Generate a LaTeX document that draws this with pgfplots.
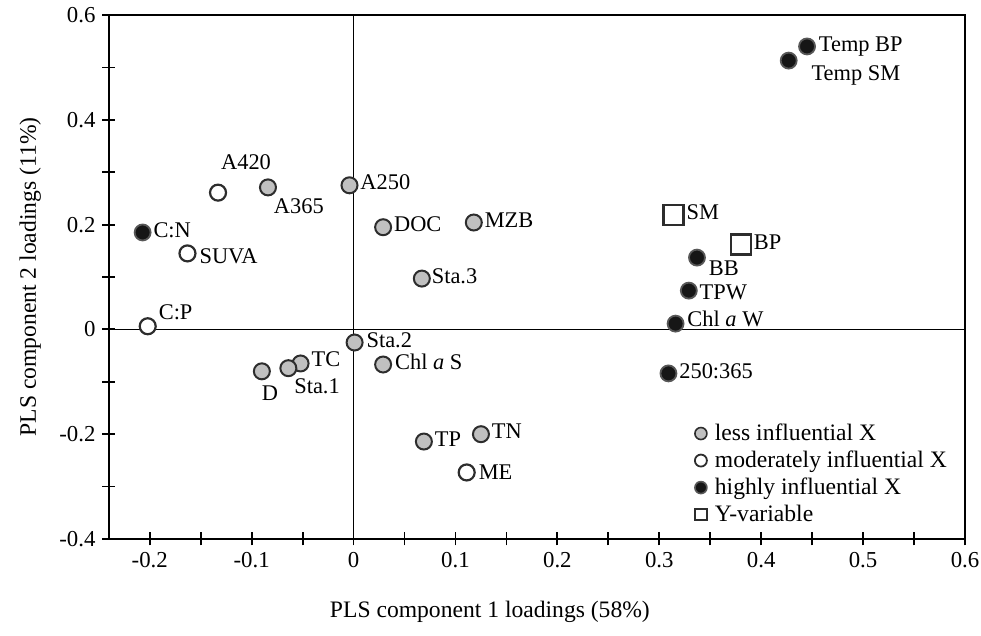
\documentclass[border=0pt]{standalone}
\usepackage{fontspec}
\setmainfont{Liberation Serif}
\usepackage{pgfplots}
\usepackage{pgfplotstable}
\pgfplotsset{compat=1.18}
\definecolor{ptgray}{RGB}{192,192,192}
\definecolor{ptedge}{RGB}{45,45,45}
\definecolor{ptblack}{RGB}{22,22,22}

% x y label, dx dy = label offset from marker (pt)
\pgfplotstableread{
x y lab dx dy
-0.004 0.275 A250 5 0
-0.084 0.271 A365 2.5 -11
0.029 0.195 DOC 5 0
0.118 0.204 MZB 5 0
0.067 0.097 Sta.3 4.5 0
0.001 -0.025 Sta.2 5.5 0
0.029 -0.067 {Chl \textit{a} S} 5.5 0
-0.052 -0.065 TC 5 1
-0.064 -0.074 Sta.1 2.5 -10.5
-0.090 -0.080 D -0.5 -12.5
0.069 -0.214 TP 5 0
0.125 -0.200 TN 5 0
}\lessinf
\pgfplotstableread{
x y lab dx dy
-0.133 0.261 A420 1 14
-0.163 0.145 SUVA 5.5 -2.5
-0.202 0.006 C:P 5 5.5
0.111 -0.273 ME 5.5 -1
}\modinf
\pgfplotstableread{
x y lab dx dy
-0.207 0.185 C:N 5 0
0.445 0.540 {Temp BP} 5.5 0
0.427 0.513 {Temp SM} 11 -7.5
0.337 0.137 BB 5.5 -6.5
0.329 0.074 TPW 5 -2
0.316 0.011 {Chl \textit{a} W} 5.5 1
0.309 -0.084 250:365 5 0
}\highinf
\pgfplotstableread{
x y lab dx dy
0.314 0.218 SM 6 0
0.380 0.162 BP 6 0
}\yvar

\begin{document}
\begin{tikzpicture}
\begin{axis}[
  scale only axis,
  width=428pt, height=262pt,
  xmin=-0.24, xmax=0.6,
  ymin=-0.4, ymax=0.6,
  xtick={-0.2,-0.1,...,0.6},
  ytick={-0.4,-0.2,...,0.6},
  minor x tick num=1,
  minor y tick num=1,
  xtick pos=bottom, ytick pos=left,
  tick align=center,
  major tick length=6.5pt, minor tick length=6.5pt,
  every tick/.style={black, line width=0.9pt},
  axis line style={line width=1pt},
  xticklabel style={/pgf/number format/fixed, /pgf/number format/precision=1},
  yticklabel style={/pgf/number format/fixed, /pgf/number format/precision=1},
  /pgf/number format/assume math mode=true,
  tick label style={font=\fontsize{11.4}{13}\selectfont},
  label style={font=\fontsize{11.8}{14}\selectfont},
  xlabel={PLS component 1 loadings (58\%)},
  ylabel={PLS component 2 loadings (11\%)},
  xlabel style={at={(axis description cs:0.445,-0.139)}, anchor=center},
  ylabel style={at={(axis description cs:-0.092,0.5)}, anchor=center, rotate=0},
  visualization depends on={\thisrow{dx} \as \dx},
  visualization depends on={\thisrow{dy} \as \dy},
  nodes near coords,
  point meta=explicit symbolic,
  every node near coord/.append style={anchor=mid west, xshift=\dx pt, yshift=\dy pt,
    inner sep=0pt, font=\fontsize{11.2}{13}\selectfont, text=black},
  legend image code/.code={\draw[mark repeat=1,#1] plot coordinates {(0pt,0pt)};},
  legend style={at={(rel axis cs:0.677,0.236)}, anchor=north west, draw=none, fill=none,
    font=\fontsize{11.8}{13.8}\selectfont, row sep=-0.3pt,
    /tikz/every odd column/.append style={column sep=2pt}},
  legend cell align=left,
]
\coordinate (bl) at (rel axis cs:0,0);
\draw[line width=0.85pt] (axis cs:0,-0.4) -- (axis cs:0,0.6);
\draw[line width=0.85pt] (axis cs:-0.24,0) -- (axis cs:0.6,0);

\addplot[forget plot, only marks, mark=*, mark size=4pt,
  mark options={fill=ptgray, draw=ptedge, line width=1pt}]
  table[x=x, y=y, meta=lab] {\lessinf};
\addplot[forget plot, only marks, mark=*, mark size=4pt,
  mark options={fill=white, draw=ptedge, line width=1.1pt}]
  table[x=x, y=y, meta=lab] {\modinf};
\addplot[forget plot, only marks, mark=*, mark size=4pt,
  mark options={fill=ptblack, draw=ptedge!80, line width=0.9pt}]
  table[x=x, y=y, meta=lab] {\highinf};
\addplot[forget plot, only marks, mark=square, mark size=5pt,
  mark options={draw=ptedge, line width=1.1pt}]
  table[x=x, y=y, meta=lab] {\yvar};

\addlegendimage{only marks, mark=*, mark size=3pt, mark options={fill=ptgray, draw=ptedge, line width=0.8pt}}
\addlegendentry{less influential X}
\addlegendimage{only marks, mark=*, mark size=3pt, mark options={fill=white, draw=ptedge, line width=0.9pt}}
\addlegendentry{moderately influential X}
\addlegendimage{only marks, mark=*, mark size=3pt, mark options={fill=ptblack, draw=ptedge!80, line width=0.8pt}}
\addlegendentry{highly influential X}
\addlegendimage{only marks, mark=square, mark size=2.9pt, mark options={draw=ptedge, line width=0.9pt}}
\addlegendentry{Y-variable}
\end{axis}
\pgfresetboundingbox
\path[use as bounding box] ([shift={(-54.5pt,-48.5pt)}]bl) rectangle ([shift={(436pt,269.5pt)}]bl);
\end{tikzpicture}
\end{document}
